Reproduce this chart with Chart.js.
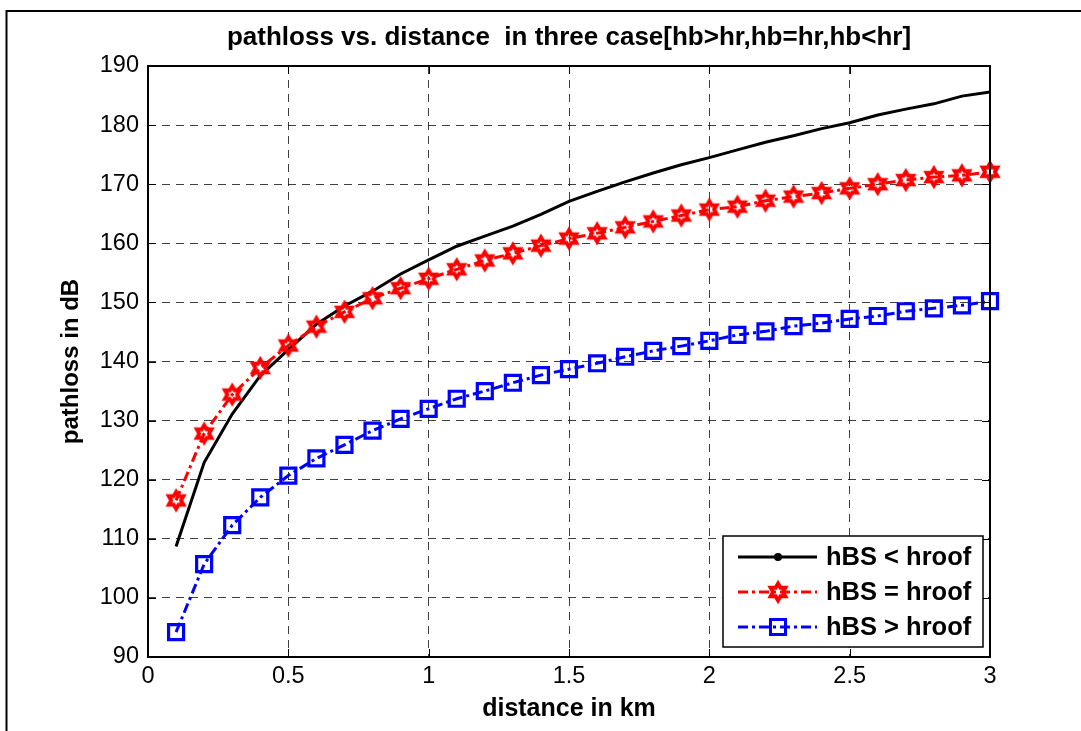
<!DOCTYPE html>
<html>
<head>
<meta charset="utf-8">
<script src="https://cdn.jsdelivr.net/npm/chart.js@4/dist/chart.umd.min.js"></script>
<style>
html,body{margin:0;padding:0;background:#fff;}
#wrap{position:relative;width:1081px;height:731px;}
</style>
</head>
<body>
<div id="wrap"><canvas id="c" width="1081" height="731"></canvas></div>
<script>
// ---- data ----
const distances = [0.1,0.2,0.3,0.4,0.5,0.6,0.7,0.8,0.9,1.0,1.1,1.2,1.3,1.4,1.5,1.6,1.7,1.8,1.9,2.0,2.1,2.2,2.3,2.4,2.5,2.6,2.7,2.8,2.9,3.0];
const lossBelowRoof = [108.7,122.9,131.1,137.6,142.0,146.3,149.4,151.9,154.8,157.2,159.5,161.2,162.9,164.9,167.1,168.8,170.4,171.9,173.3,174.5,175.8,177.1,178.2,179.4,180.4,181.7,182.7,183.6,184.9,185.6];
const lossAtRoof = [116.5,127.8,134.4,138.9,142.7,145.9,148.4,150.7,152.4,154.0,155.6,157.1,158.3,159.6,160.8,161.7,162.7,163.7,164.7,165.7,166.2,167.2,167.9,168.5,169.3,170.0,170.7,171.2,171.5,172.1];
const lossAboveRoof = [94.2,105.7,112.3,117.0,120.7,123.6,125.9,128.3,130.3,132.0,133.7,135.0,136.4,137.7,138.7,139.7,140.8,141.8,142.6,143.5,144.5,145.1,146.0,146.5,147.2,147.7,148.5,149.0,149.5,150.2];
const seriesLabels = ['hBS < hroof','hBS = hroof','hBS > hroof'];
const xTickValues = [0,0.5,1,1.5,2,2.5,3];
const xTickLabels = ['0','0.5','1','1.5','2','2.5','3'];
const yTickValues = [90,100,110,120,130,140,150,160,170,180,190];
const chartTitle = 'pathloss vs. distance  in three case[hb>hr,hb=hr,hb<hr]';
const xAxisTitle = 'distance in km';
const yAxisTitle = 'pathloss in dB';

// ---- marker helpers ----
const FONT = "Arial, 'Liberation Sans', sans-serif";
function makeHexagram(size, color, lw, R){
  const c = document.createElement('canvas');
  c.width = size; c.height = size;
  const g = c.getContext('2d');
  const cx = size/2, cy = size/2, r = R/Math.sqrt(3);
  g.beginPath();
  for (let i=0;i<12;i++){
    const a = -Math.PI/2 + i*Math.PI/6;
    const rr = (i%2===0) ? R : r;
    const px = cx + rr*Math.cos(a), py = cy + rr*Math.sin(a);
    if (i===0) g.moveTo(px,py); else g.lineTo(px,py);
  }
  g.closePath();
  g.lineWidth = lw; g.strokeStyle = color; g.lineJoin = 'miter';
  g.stroke();
  return c;
}
const starImg = makeHexagram(28, '#ff0000', 3.8, 8.5);

const pts = (ys) => distances.map((x,i)=>({x:x, y:ys[i]}));

const frameAndLegend = {
  id: 'frameAndLegend',
  beforeDraw(chart){
    const ctx = chart.ctx;
    ctx.save();
    ctx.fillStyle = '#fff';
    ctx.fillRect(0,0,chart.width,chart.height);
    ctx.strokeStyle = '#000';
    ctx.lineWidth = 2;
    ctx.strokeRect(6.5, 11, 1200, 900);
    ctx.restore();
  },
  afterDatasetsDraw(chart){
    const ctx = chart.ctx;
    const a = chart.chartArea;
    const xs = chart.scales.x, ys = chart.scales.y;
    ctx.save();
    ctx.strokeStyle = '#000'; ctx.lineWidth = 1;
    ctx.beginPath();
    xTickValues.forEach(v=>{
      const px = Math.round(xs.getPixelForValue(v))+0.5;
      ctx.moveTo(px, a.bottom); ctx.lineTo(px, a.bottom-8);
      ctx.moveTo(px, a.top); ctx.lineTo(px, a.top+8);
    });
    yTickValues.forEach(v=>{
      const py = Math.round(ys.getPixelForValue(v))+0.5;
      ctx.moveTo(a.left, py); ctx.lineTo(a.left+8, py);
      ctx.moveTo(a.right, py); ctx.lineTo(a.right-8, py);
    });
    ctx.stroke();
    ctx.lineWidth = 2;
    ctx.strokeRect(a.left, a.top, a.right-a.left, a.bottom-a.top);

    // legend
    const lx = 723, ly = 536, lw = 260, lh = 111;
    ctx.fillStyle = '#fff';
    ctx.fillRect(lx, ly, lw, lh);
    ctx.lineWidth = 1.5; ctx.strokeStyle = '#000';
    ctx.strokeRect(lx, ly, lw, lh);
    const rows = [557, 592, 627];
    const ds = chart.data.datasets;
    rows.forEach((ry,i)=>{
      const d = ds[i];
      ctx.save();
      ctx.strokeStyle = d.borderColor; ctx.lineWidth = d.borderWidth;
      ctx.setLineDash(d.borderDash || []);
      ctx.beginPath(); ctx.moveTo(738, ry); ctx.lineTo(817, ry); ctx.stroke();
      ctx.setLineDash([]);
      if (i===0){
        ctx.fillStyle = '#000';
        ctx.beginPath(); ctx.arc(778, ry, 4, 0, Math.PI*2); ctx.fill();
      } else if (i===1){
        ctx.drawImage(starImg, 778-starImg.width/2, ry-starImg.height/2);
      } else {
        ctx.strokeStyle = '#0000ff'; ctx.lineWidth = 3;
        ctx.strokeRect(778-7.5, ry-7.5, 15, 15);
      }
      ctx.restore();
      ctx.fillStyle = '#000';
      ctx.font = 'bold 25.5px ' + FONT;
      ctx.textAlign = 'left'; ctx.textBaseline = 'middle';
      ctx.fillText(seriesLabels[i], 826, ry+1);
    });
    ctx.restore();
  }
};

Chart.defaults.color = '#000';
Chart.defaults.font.family = FONT;

new Chart(document.getElementById('c'), {
  type: 'line',
  data: {
    datasets: [
      {label: seriesLabels[0], data: pts(lossBelowRoof), borderColor:'#000000', backgroundColor:'#000000',
       borderWidth:3, pointRadius:0, tension:0, fill:false, order:3, clip:false},
      {label: seriesLabels[1], data: pts(lossAtRoof), borderColor:'#ff0000', backgroundColor:'#ff0000',
       borderWidth:3, borderDash:[10,4,3,4], pointStyle: starImg, pointRadius:10, tension:0, fill:false, order:2, clip:false},
      {label: seriesLabels[2], data: pts(lossAboveRoof), borderColor:'#0000ff', backgroundColor:'rgba(0,0,0,0)',
       borderWidth:3, borderDash:[10,4,3,4], pointStyle:'rect', pointRadius:10.6, pointBorderWidth:3.2,
       pointBorderColor:'#0000ff', pointBackgroundColor:'rgba(0,0,0,0)', tension:0, fill:false, order:1, clip:false}
    ]
  },
  options: {
    responsive:false, animation:false, devicePixelRatio:1,
    layout:{padding:{left:0, top:0, right:91, bottom:0}},
    plugins:{
      legend:{display:false},
      tooltip:{enabled:false},
      title:{display:true, text: chartTitle, fullSize:false, color:'#000',
        font:{size:26, weight:'bold', family:FONT, lineHeight:1.2},
        padding:{top:22.5, bottom:12.3}}
    },
    scales:{
      x:{type:'linear', min:0, max:3,
        afterBuildTicks(s){ s.ticks = xTickValues.map(v=>({value:v})); },
        afterFit(s){ s.height = 74; },
        ticks:{font:{size:23.5, family:FONT}, padding:5, maxRotation:0, color:'#000',
          callback:(v)=>{ const i = xTickValues.indexOf(v); return i>=0 ? xTickLabels[i] : String(v); }},
        grid:{color:'rgba(0,0,0,0.75)', lineWidth:1, drawTicks:false},
        border:{display:false, dash:[8,6]},
        title:{display:true, text:xAxisTitle, color:'#000', font:{size:25, weight:'bold', family:FONT, lineHeight:1.2}, padding:{top:0, bottom:7}}
      },
      y:{type:'linear', min:90, max:190,
        afterBuildTicks(s){ s.ticks = yTickValues.map(v=>({value:v})); },
        afterFit(s){ s.width = 148; },
        ticks:{font:{size:23.5, family:FONT}, padding:9, color:'#000'},
        grid:{color:'rgba(0,0,0,0.75)', lineWidth:1, drawTicks:false},
        border:{display:false, dash:[8,6]},
        title:{display:true, text:yAxisTitle, color:'#000', font:{size:24, weight:'bold', family:FONT, lineHeight:1.2}, padding:{top:57, bottom:0}}
      }
    }
  },
  plugins:[frameAndLegend]
});
</script>
</body>
</html>
